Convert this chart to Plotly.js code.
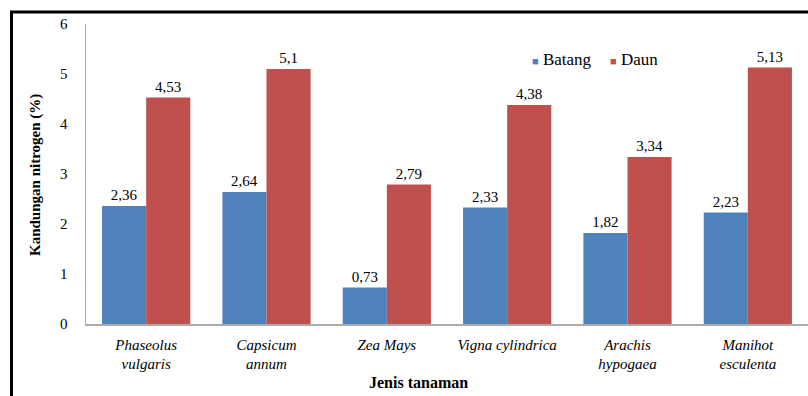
<!DOCTYPE html>
<html>
<head>
<meta charset="utf-8">
<script src="https://cdn.plot.ly/plotly-3.0.1.min.js"></script>
<style>
html,body{margin:0;padding:0;background:#fff;overflow:hidden;}
#chart{width:808px;height:396px;}
</style>
</head>
<body>
<div id="chart"></div>
<script>
const categories = ["Phaseolus<br>vulgaris", "Capsicum<br>annum", "Zea Mays", "Vigna cylindrica", "Arachis<br>hypogaea", "Manihot<br>esculenta"];
const seriesNames = ["Batang", "Daun"];
const batang = [2.36, 2.64, 0.73, 2.33, 1.82, 2.23];
const daun = [4.53, 5.1, 2.79, 4.38, 3.34, 5.13];
const yTicks = [0, 1, 2, 3, 4, 5, 6];

const FONT = 'Times New Roman';
const colors = ['#4F81BD', '#C0504D'];
const fmt = v => String(v).replace('.', ',');

const traces = [batang, daun].map((vals, i) => ({
  type: 'bar', name: seriesNames[i], x: categories, y: vals, text: vals.map(fmt),
  textposition: 'outside', cliponaxis: false, marker: {color: colors[i]},
  textfont: {family: FONT, size: 15, color: '#000'}, showlegend: false
}));

const L = 86, R = 808, T = 24, B = 324;
const W = R - L, H = B - T;
const px = x => (x - L) / W;
const py = y => (B - y) / H;

const legendAnn = seriesNames.map((n, i) => ({
  text: '<span style="color:' + colors[i] + ';font-size:11px">■</span> ' + n,
  xref: 'paper', yref: 'paper', x: px(i === 0 ? 530 : 608), y: py(59),
  xanchor: 'left', yanchor: 'middle', showarrow: false, font: {family: FONT, size: 17, color: '#000'}
}));

const layout = {
  width: 808, height: 396,
  margin: {l: L, r: 808 - R, t: T, b: 396 - B, pad: 0},
  paper_bgcolor: '#fff', plot_bgcolor: '#fff',
  font: {family: FONT, size: 14, color: '#000'},
  barmode: 'group', bargap: 0.267, bargroupgap: 0,
  showlegend: false,
  xaxis: {showline: true, linecolor: '#AAAAAA', linewidth: 1.5, showgrid: false, zeroline: false, mirror: false,
          ticks: '', tickfont: {family: FONT, size: 15, style: 'italic', color: '#000'}, ticklabelstandoff: 6},
  yaxis: {range: [0, 6], tickvals: yTicks, showline: true, linecolor: '#AAAAAA', linewidth: 1.5, mirror: false,
          showgrid: false, zeroline: false, ticks: '', tickfont: {family: FONT, size: 15, color: '#000'},
          ticklabelstandoff: 14},
  annotations: legendAnn.concat([
    {text: '<b>Jenis tanaman</b>', xref: 'paper', yref: 'paper', x: px(418), y: py(382),
     xanchor: 'center', yanchor: 'middle', showarrow: false, font: {family: FONT, size: 16, color: '#000'}},
    {text: '<b>Kandungan nitrogen (%)</b>', xref: 'paper', yref: 'paper', x: px(35), y: py(175),
     xanchor: 'center', yanchor: 'middle', textangle: -90, showarrow: false, font: {family: FONT, size: 15, color: '#000'}}
  ]),
  shapes: [
    {type: 'line', xref: 'paper', yref: 'paper', x0: px(10), x1: px(812), y0: py(12), y1: py(12),
     line: {color: '#000', width: 3}},
    {type: 'line', xref: 'paper', yref: 'paper', x0: px(11.5), x1: px(11.5), y0: py(11), y1: py(400),
     line: {color: '#000', width: 3}}
  ]
};

Plotly.newPlot('chart', traces, layout, {displayModeBar: false, staticPlot: true}).then(() => {
  document.querySelectorAll('#chart text').forEach(t => { t.style.fontFamily = '"Times New Roman", "Liberation Serif", serif'; });
});
</script>
</body>
</html>
